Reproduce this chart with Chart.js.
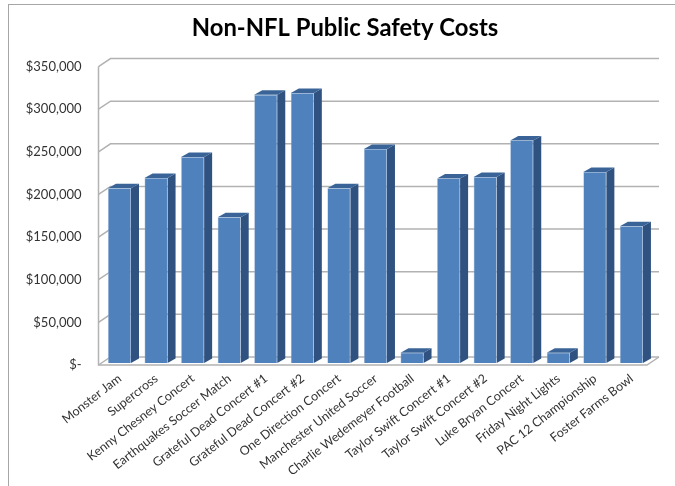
<!DOCTYPE html>
<html>
<head>
<meta charset="utf-8">
<title>Non-NFL Public Safety Costs</title>
<script src="https://cdn.jsdelivr.net/npm/chart.js@4"></script>
<style>
  html, body { margin: 0; padding: 0; background: #fff; }
  #wrap { width: 675px; height: 486px; position: relative; }
  #frame { position: absolute; left: 8px; top: 4px; right: 0; bottom: 0; border-left: 1.5px solid #a6a6a6; border-top: 1.5px solid #a6a6a6; }
  canvas { position: absolute; left: 0; top: 0; filter: blur(0.35px); }
</style>
</head>
<body>
<div id="wrap">
  <div id="frame"></div>
  <canvas id="costChart" width="675" height="486"></canvas>
</div>
<script>
const events = [
  "Monster Jam", "Supercross", "Kenny Chesney Concert", "Earthquakes Soccer Match",
  "Grateful Dead Concert #1", "Grateful Dead Concert #2", "One Direction Concert",
  "Manchester United Soccer", "Charlie Wedemeyer Football", "Taylor Swift Concert #1",
  "Taylor Swift Concert #2", "Luke Bryan Concert", "Friday Night Lights",
  "PAC 12 Championship", "Foster Farms Bowl"
];
const costs = [
  205000, 217000, 241500, 171000, 314500, 316500, 205000, 251000,
  12000, 216500, 218000, 261000, 12000, 224000, 160500
];
const maxCost = 350000;
const costStep = 50000;

const wallX = 12, wallY = -8;   // back wall offset from the front plane
const depthX = 8, depthY = -4.5;  // bar depth
const shiftX = 2.7, shiftY = -2; // bars sit a little inside the floor

const walls = {
  id: "walls",
  afterLayout(chart) {
    // title is centred over the frame, not over the plot
    chart.titleBlock.left = 15;
    chart.titleBlock.right = chart.width;
  },
  beforeDatasetsDraw(chart) {
    const { ctx, chartArea: a, scales: { y } } = chart;
    ctx.save();
    ctx.strokeStyle = "#b2b2b2";
    ctx.lineWidth = 1.5;

    // side wall and floor edges
    ctx.beginPath();
    ctx.moveTo(a.left, y.getPixelForValue(maxCost));
    ctx.lineTo(a.left, y.getPixelForValue(0));
    ctx.lineTo(a.right, y.getPixelForValue(0));
    ctx.lineTo(a.right + wallX, y.getPixelForValue(0) + wallY);
    ctx.stroke();

    for (let v = 0; v <= maxCost; v += costStep) {
      const py = y.getPixelForValue(v);
      ctx.beginPath();
      ctx.moveTo(a.left, py);
      ctx.lineTo(a.left + wallX, py + wallY);
      ctx.lineTo(a.right + wallX, py + wallY);
      ctx.stroke();
    }

    // bar sides and tops
    chart.getDatasetMeta(0).data.forEach(bar => {
      const l = bar.x - bar.width / 2 + shiftX;
      const r = bar.x + bar.width / 2 + shiftX;
      const t = bar.y + shiftY;
      const b = bar.base + shiftY;

      ctx.fillStyle = "#2f5280";
      ctx.beginPath();
      ctx.moveTo(r, t);
      ctx.lineTo(r + depthX, t + depthY);
      ctx.lineTo(r + depthX, b + depthY);
      ctx.lineTo(r, b);
      ctx.closePath();
      ctx.fill();

      ctx.fillStyle = "#3a6497";
      ctx.beginPath();
      ctx.moveTo(l, t);
      ctx.lineTo(l + depthX, t + depthY);
      ctx.lineTo(r + depthX, t + depthY);
      ctx.lineTo(r, t);
      ctx.closePath();
      ctx.fill();
    });
    ctx.restore();

    ctx.save();
    ctx.translate(shiftX, shiftY);
  },
  afterDatasetsDraw(chart) {
    chart.ctx.restore();
  }
};

new Chart(document.getElementById("costChart"), {
  type: "bar",
  data: {
    labels: events,
    datasets: [{
      data: costs,
      backgroundColor: "#4f81bd",
      borderColor: "#9db8d9",
      borderWidth: 0.6,
      categoryPercentage: 1,
      barPercentage: 0.63
    }]
  },
  plugins: [walls],
  options: {
    responsive: false,
    animation: false,
    layout: { padding: { left: 15, right: 28, top: 0, bottom: 0 } },
    plugins: {
      legend: { display: false },
      tooltip: { enabled: false },
      title: {
        display: true,
        text: "Non-NFL Public Safety Costs",
        color: "#000",
        font: { family: "Lato", size: 23.8, weight: "bold" },
        padding: { top: 14, bottom: 24 }
      }
    },
    scales: {
      x: {
        grid: { display: false },
        border: { display: false },
        afterFit(scale) { scale.height = 121; },
        ticks: {
          autoSkip: false,
          minRotation: 38,
          maxRotation: 38,
          padding: -2,
          labelOffset: 3,
          color: "#333",
          font: { family: "Lato", size: 12.5 }
        }
      },
      y: {
        min: 0,
        max: maxCost,
        grid: { display: false },
        border: { display: false },
        afterFit(scale) { scale.width = 83.5; },
        ticks: {
          stepSize: costStep,
          padding: 9,
          color: "#333",
          font: { family: "Lato", size: 13 },
          callback: v => v === 0 ? "$-" : "$" + v.toLocaleString("en-US")
        }
      }
    }
  }
});
</script>
</body>
</html>
